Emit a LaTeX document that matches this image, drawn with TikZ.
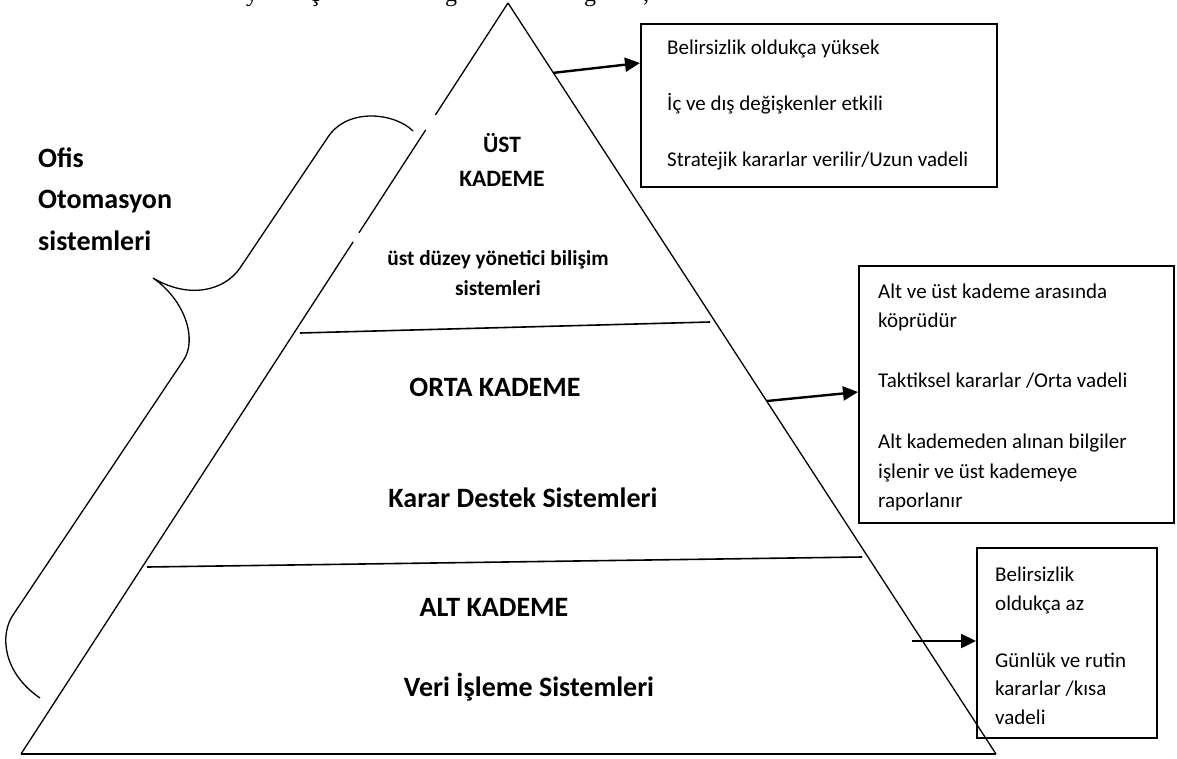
\documentclass[tikz,border=0pt]{standalone}
\usepackage{fontspec}
\setmainfont{Carlito}
\newfontfamily\timesfont{Liberation Serif}
\usetikzlibrary{arrows.meta,calc}

\begin{document}
\begin{tikzpicture}[x=1pt,y=-1pt,
  edge/.style={line width=1.3pt},
  baseline rule/.style={line width=2.6pt},
  divider/.style={line width=1.6pt},
  infobox/.style={draw,line width=1.5pt,anchor=north west,inner sep=0pt},
  boxtext/.style={anchor=west,align=left,inner sep=0pt,font=\fontsize{21}{29}\selectfont},
  pointer/.style={line width=2.4pt,-{Triangle[length=15pt,width=14pt]}},
  level/.style={align=center,inner sep=0pt,font=\bfseries\fontsize{28}{34}\selectfont},
  brace/.style={line width=1.3pt},
  cut/.style={anchor=base,inner sep=0pt,font=\timesfont\fontsize{24}{24}\selectfont}
]
\useasboundingbox (0,0) rectangle (1177,758);
\fill[white] (0,0) rectangle (1177,758);

% the last line of the text above, mostly cut off by the page edge
\node[cut] (c1) at (252,1) {y};
\node[cut] (c2) at (315,1) {ç};
\node[cut] (c3) at (451,1) {g};
\node[cut] (c4) at (590,1) {g};
\node[cut] (c5) at (646,1) {,};

% pyramid
\coordinate (apex) at (508,3);
\coordinate (bl) at (21,754);
\coordinate (br) at (996,754);
\draw[edge] (apex) -- ($(apex)!0.149!(bl)$);
\draw[edge] ($(apex)!0.169!(bl)$) -- ($(apex)!0.306!(bl)$);
\draw[edge] ($(apex)!0.318!(bl)$) -- (bl);
\draw[edge] (apex) -- (br);
\draw[baseline rule] (bl) -- (br);

% level dividers
\draw[divider] (300,333) -- (710,322);
\draw[divider] (147,567) -- (862,557);

% level labels
\node[level,font=\bfseries\fontsize{23.5}{34}\selectfont] (top) at (502,160) {ÜST\\KADEME};
\node[level,font=\bfseries\fontsize{21.3}{30}\selectfont] (topsys) at (498,273) {üst düzey yönetici bilişim\\sistemleri};
\node[level] (mid) at (495,387) {ORTA KADEME};
\node[level] (midsys) at (523,498) {Karar Destek Sistemleri};
\node[level] (low) at (494,607) {ALT KADEME};
\node[level] (lowsys) at (529,687) {Veri İşleme Sistemleri};

% office automation brace
\node[level,align=left,anchor=west,font=\bfseries\fontsize{28}{41.5}\selectfont] (ofis) at (38,199) {Ofis\\Otomasyon\\sistemleri};
\draw[brace] (413,131) .. controls (395,113) and (348,107) .. (328,137)
  -- (240,268) .. controls (225,290) and (190,300) .. (153,278)
  .. controls (185,300) and (198,340) .. (183,361)
  -- (13,615) .. controls (0,634) and (2,672) .. (40,698);

% description boxes
\node[infobox,minimum width=356pt,minimum height=163pt] (b1) at (640,23) {};
\node[boxtext] (t1) at ([xshift=27pt]b1.west) {Belirsizlik oldukça yüksek\\[27pt]İç ve dış değişkenler etkili\\[27pt]Stratejik kararlar verilir/Uzun vadeli};

\node[infobox,minimum width=315pt,minimum height=257pt] (b2) at (858,265) {};
\node[boxtext,font=\fontsize{21}{29.5}\selectfont] (t2) at ([xshift=20pt,yshift=-3pt]b2.west) {Alt ve üst kademe arasında\\köprüdür\\[30pt]Taktiksel kararlar /Orta vadeli\\[32pt]Alt kademeden alınan bilgiler\\işlenir ve üst kademeye\\raporlanır};

\node[infobox,minimum width=180pt,minimum height=190pt] (b3) at (976,547) {};
\node[boxtext,font=\fontsize{21}{28.5}\selectfont] (t3) at ([xshift=19pt,yshift=-3pt]b3.west) {Belirsizlik\\oldukça az\\[28.5pt]Günlük ve rutin\\kararlar /kısa\\vadeli};

% pointers from the levels to their boxes
\coordinate (p3) at (912,641);
\draw[pointer] ($(apex)!0.093!(br)$) -- ([yshift=-40pt]b1.north west);
\draw[pointer] ($(apex)!0.53!(br)$) -- ([yshift=-127pt]b2.north west);
\draw[pointer] (p3) -- ([yshift=-94pt]b3.north west);
\end{tikzpicture}
\end{document}
